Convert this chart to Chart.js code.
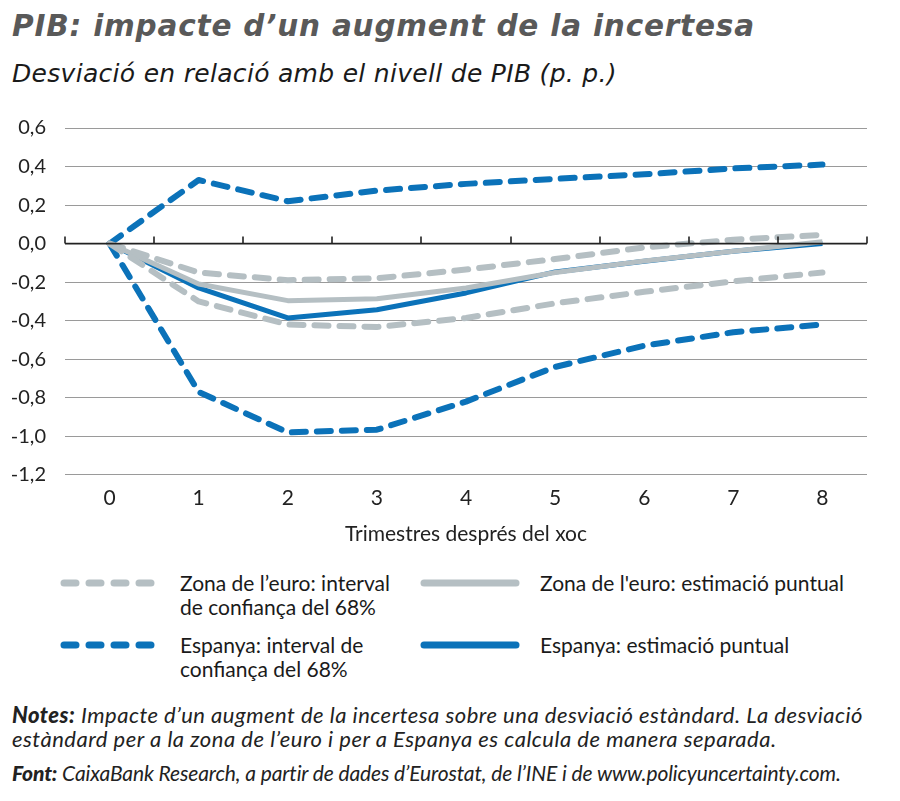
<!DOCTYPE html>
<html lang="ca">
<head>
<meta charset="utf-8">
<script src="https://cdn.jsdelivr.net/npm/chart.js@4"></script>
<style>
  body { margin: 0; background: #fff; font-family: Lato, "Open Sans", sans-serif; color: #1a1a1a; }
  #wrap { position: relative; width: 900px; height: 801px; }
  .title { position: absolute; left: 12px; top: 9px; font-family: "DejaVu Sans", sans-serif; font-size: 29.5px; font-weight: 700; font-style: italic; color: #595959; white-space: nowrap; letter-spacing: 0.8px; }
  .subtitle { position: absolute; left: 12px; top: 59px; font-family: "DejaVu Sans", sans-serif; font-size: 25px; font-style: italic; white-space: nowrap; letter-spacing: 0.3px; }
  #chartBox { position: absolute; left: 0; top: 97px; width: 880px; height: 454px; }
  .leg { position: absolute; font-size: 21px; line-height: 24px; }
  .note { position: absolute; left: 12px; font-size: 22px; font-style: italic; line-height: 24px; color: #222; white-space: nowrap; letter-spacing: 0.5px; }
  .note b { font-weight: 900; }
  .note.src { font-size: 21px; letter-spacing: -0.12px; }
</style>
</head>
<body>
<div id="wrap">
  <div class="title">PIB: impacte d’un augment de la incertesa</div>
  <div class="subtitle">Desviació en relació amb el nivell de PIB (p. p.)</div>
  <div id="chartBox"><canvas id="c"></canvas></div>

  <div class="leg" style="left:180px; top:571px;">Zona de l’euro: interval<br>de confiança del 68%</div>
  <div class="leg" style="left:540px; top:571px;">Zona de l'euro: estimació puntual</div>
  <div class="leg" style="left:180px; top:633px;">Espanya: interval de<br>confiança del 68%</div>
  <div class="leg" style="left:540px; top:633px;">Espanya: estimació puntual</div>
  <svg style="position:absolute;left:0;top:560px" width="900" height="100">
    <line x1="64" y1="23" x2="156" y2="23" stroke="#b5bfc3" stroke-width="7" stroke-linecap="round" stroke-dasharray="12 13"/>
    <line x1="424" y1="23" x2="516" y2="23" stroke="#b5bfc3" stroke-width="7" stroke-linecap="round"/>
    <line x1="64" y1="85" x2="156" y2="85" stroke="#0b72b9" stroke-width="7" stroke-linecap="round" stroke-dasharray="12 13"/>
    <line x1="424" y1="85" x2="516" y2="85" stroke="#0b72b9" stroke-width="7" stroke-linecap="round"/>
  </svg>

  <div class="note" style="top:703px;"><b>Notes:</b> Impacte d’un augment de la incertesa sobre una desviació estàndard. La desviació<br>estàndard per a la zona de l’euro i per a Espanya es calcula de manera separada.</div>
  <div class="note src" style="top:761px;"><b>Font:</b> CaixaBank Research, a partir de dades d’Eurostat, de l’INE i de www.policyuncertainty.com.</div>
</div>
<script>
// trimestres després del xoc
const quarters = ['0', '1', '2', '3', '4', '5', '6', '7', '8'];

// zona de l'euro
const euroUpper = [0, -0.15, -0.19, -0.18, -0.135, -0.08, -0.02, 0.02, 0.045];
const euroPoint = [0, -0.21, -0.296, -0.286, -0.23, -0.15, -0.09, -0.04, 0.01];
const euroLower = [0, -0.30, -0.42, -0.433, -0.386, -0.31, -0.25, -0.196, -0.15];

// Espanya
const spainUpper = [0, 0.33, 0.22, 0.275, 0.31, 0.336, 0.36, 0.39, 0.41];
const spainPoint = [0, -0.23, -0.386, -0.343, -0.256, -0.147, -0.092, -0.04, 0.0];
const spainLower = [0, -0.77, -0.98, -0.966, -0.82, -0.64, -0.53, -0.46, -0.42];

const yTicks = [0.6, 0.4, 0.2, 0.0, -0.2, -0.4, -0.6, -0.8, -1.0, -1.2];

const BLUE = '#0b72b9';
const GREY = '#b5bfc3';

function line(data, color, dashed) {
    return {
        data: data,
        borderColor: color,
        borderWidth: dashed ? 6 : 5,
        borderDash: dashed ? [14, 11] : [],
        borderCapStyle: dashed ? 'round' : 'butt',
        borderJoinStyle: 'round',
        pointRadius: 0,
        tension: 0,
        fill: false
    };
}

// eix del zero amb marques entre trimestres
const zeroAxis = {
    id: 'zeroAxis',
    afterDatasetsDraw(chart) {
        const { ctx, chartArea, scales: { y } } = chart;
        const y0 = y.getPixelForValue(0);
        ctx.save();
        ctx.strokeStyle = '#222';
        ctx.lineWidth = 1.6;
        ctx.beginPath();
        ctx.moveTo(chartArea.left, y0);
        ctx.lineTo(chartArea.right, y0);
        for (let i = 0; i <= quarters.length; i++) {
            const px = Math.round(chartArea.left + i * (chartArea.right - chartArea.left) / quarters.length);
            ctx.moveTo(px, y0);
            ctx.lineTo(px, y0 - 7);
        }
        ctx.stroke();
        ctx.restore();
    }
};

new Chart(document.getElementById('c'), {
    type: 'line',
    data: {
        labels: quarters,
        datasets: [
            line(euroUpper, GREY, true),
            line(euroLower, GREY, true),
            line(euroPoint, GREY, false),
            line(spainUpper, BLUE, true),
            line(spainLower, BLUE, true),
            line(spainPoint, BLUE, false)
        ]
    },
    options: {
        responsive: true,
        maintainAspectRatio: false,
        animation: false,
        layout: { padding: { top: 2, right: 13, bottom: 0, left: 0 } },
        plugins: { legend: { display: false }, tooltip: { enabled: false } },
        scales: {
            x: {
                offset: true,
                grid: { display: false, drawTicks: false },
                border: { display: false },
                ticks: { color: '#222', font: { family: 'Lato', size: 21, lineHeight: 1 }, padding: 13 },
                title: {
                    display: true,
                    text: 'Trimestres després del xoc',
                    color: '#222',
                    font: { family: 'Lato', size: 21 },
                    padding: { top: 0, bottom: 4 }
                }
            },
            y: {
                min: -1.2,
                max: 0.6,
                afterFit(scale) { scale.width = 65; },
                afterBuildTicks(scale) { scale.ticks = yTicks.map(v => ({ value: v })); },
                grid: { color: '#9a9a9a', lineWidth: 1, drawTicks: false },
                border: { display: false },
                ticks: {
                    color: '#222',
                    font: { family: 'Lato', size: 20 },
                    padding: 19,
                    callback: v => v.toFixed(1).replace('.', ',')
                }
            }
        }
    },
    plugins: [zeroAxis]
});
</script>
</body>
</html>
